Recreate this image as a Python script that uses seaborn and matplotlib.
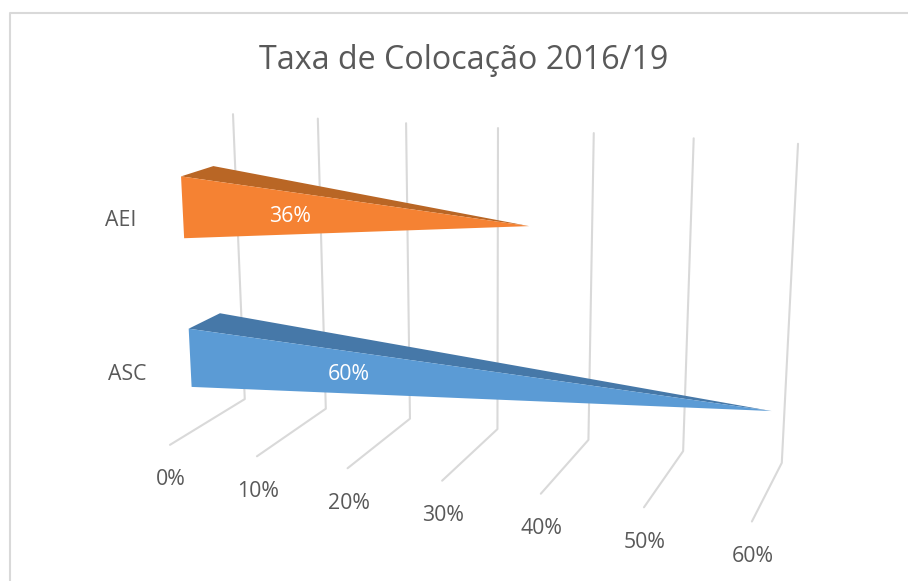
import numpy as np
import pandas as pd
import matplotlib
matplotlib.use('Agg')
import matplotlib.pyplot as plt
import seaborn as sns

sns.set_style('white')
plt.rcParams['font.family'] = ['Open Sans', 'DejaVu Sans']

title = 'Taxa de Colocação 2016/19'
categories = ['AEI', 'ASC']
values = [36, 60]
ticks = [0, 10, 20, 30, 40, 50, 60]

# colours: front face, top face
front_col = ['#F58233', '#5B9BD5']
top_col = ['#B96625', '#4678A8']
grid_col = '#D9D9D9'
text_col = '#595959'

# where each bar sits inside the 3d box (height and depth go 0..1)
bar_h = [(0.648, 0.848), (0.15, 0.348)]
bar_d = (0.30, 0.71)

# box corners on screen, used to solve the perspective
# value, depth, height -> pixel x, pixel y
calib = [(0, 1, 1, 233, 114), (0, 1, 0, 245, 399), (0, 0, 0, 170, 445),
         (30, 1, 1, 498, 128), (30, 1, 0, 497, 429), (30, 0, 0, 442, 481),
         (60, 1, 1, 798, 144), (60, 1, 0, 782, 463), (60, 0, 0, 752, 521)]

A, b = [], []
for v, d, h, px, py in calib:
    m = [v / 60, d, h, 1]
    A.append(m + [0, 0, 0, 0] + [-px * q for q in m[:3]])
    b.append(px)
    A.append([0, 0, 0, 0] + m + [-py * q for q in m[:3]])
    b.append(py)
P = np.linalg.lstsq(np.array(A, float), np.array(b, float), rcond=None)[0]
P = np.append(P, 1).reshape(3, 4)


def project(v, d, h):
    x, y, w = P @ np.array([v / 60, d, h, 1])
    return x / w, y / w


fig = plt.figure(figsize=(9.08, 5.81), dpi=100)
ax = fig.add_axes([0, 0, 1, 1])
ax.set_xlim(0, 908)
ax.set_ylim(581, 0)
ax.axis('off')

# chart frame, cropped on the right and at the bottom
ax.plot([9.5, 9.5, 908], [581, 12.5, 12.5], color=grid_col, lw=1.5)

# gridlines: back wall, floor and the tick out to the front
rows = []
for t in ticks:
    for i, (d, h) in enumerate([(1, 1), (1, 0), (0, 0)]):
        x, y = project(t, d, h)
        rows.append({'tick': t, 'order': i, 'x': x, 'y': y})
grid = pd.DataFrame(rows)
sns.lineplot(data=grid, x='x', y='y', units='tick', estimator=None, sort=False,
             color=grid_col, linewidth=1.5, ax=ax, legend=False)
ax.set_xlim(0, 908)
ax.set_ylim(581, 0)

for t in ticks:
    x, y = project(t, 0, 0)
    ax.text(x + 1, y + 35, '%d%%' % t, color=text_col, fontsize=15.3,
            ha='center', va='center')

# pyramid bars, only top and front faces can be seen
label_pos = [(121, 221), (127, 374)]
value_pos = [(290, 217), (349, 374)]
for i, cat in enumerate(categories):
    lo, hi = bar_h[i]
    apex = project(values[i], 0.5, (lo + hi) / 2)
    ft = project(0, bar_d[0], hi)
    fb = project(0, bar_d[0], lo)
    bt = project(0, bar_d[1], hi)
    ax.fill([bt[0], apex[0], ft[0]], [bt[1], apex[1], ft[1]], color=top_col[i], lw=0, zorder=3)
    ax.fill([ft[0], apex[0], fb[0]], [ft[1], apex[1], fb[1]], color=front_col[i], lw=0, zorder=3)
    ax.text(label_pos[i][0], label_pos[i][1], cat, color=text_col, fontsize=15.3,
            ha='center', va='center')
    ax.text(value_pos[i][0], value_pos[i][1], '%d%%' % values[i], color='white',
            fontsize=15.3, ha='center', va='center', zorder=4)

ax.text(464, 60.5, title, color=text_col, fontsize=23.2, ha='center', va='center')

fig.savefig('out.png', dpi=100)
